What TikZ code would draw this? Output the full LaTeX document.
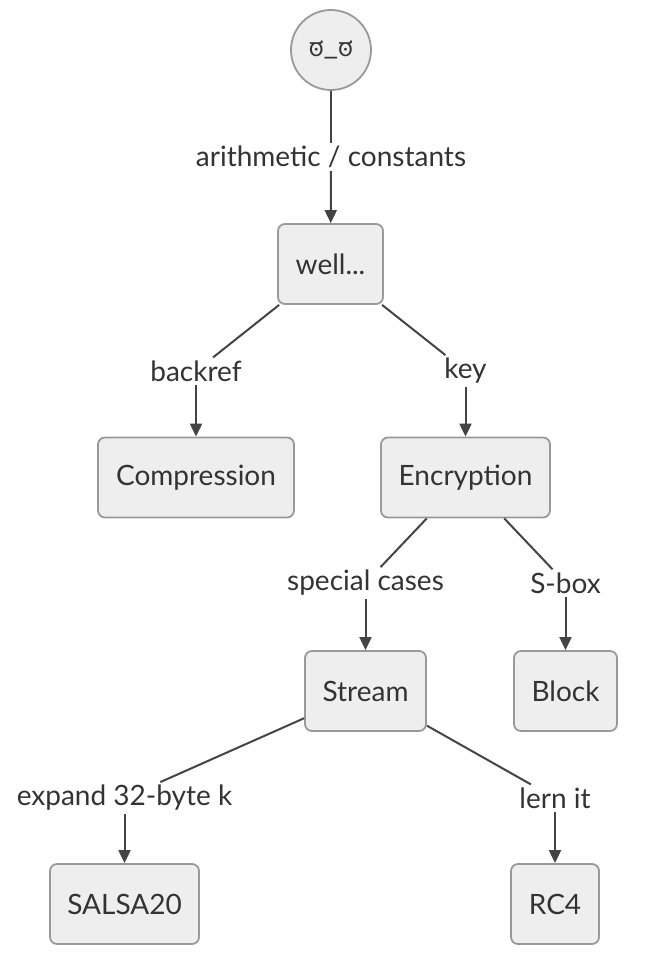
\documentclass[tikz,border=0pt]{standalone}
\usepackage{fontspec}
\setmainfont{Lato}
\newfontfamily\kannadafont[Script=Kannada]{Hind Mysuru}
\usetikzlibrary{arrows.meta}
\definecolor{nodefill}{HTML}{EEEEEE}
\definecolor{nodeline}{HTML}{999999}
\definecolor{txt}{HTML}{333333}
\definecolor{edge}{HTML}{444444}
\begin{document}
\begin{tikzpicture}[x=1pt,y=-1pt,
  box/.style={draw=nodeline, fill=nodefill, line width=1.8pt, rounded corners=7pt,
    text=txt, font=\fontsize{28}{33}\selectfont, minimum height=80pt, inner sep=0pt},
  lbl/.style={text=txt, font=\fontsize{28}{33}\selectfont, inner sep=3pt},
  conn/.style={draw=edge, line width=2pt},
  arr/.style={conn, -{Triangle[length=13pt,width=12pt]}}]
\useasboundingbox (0,0) rectangle (656,963);
\node[circle, draw=nodeline, fill=nodefill, line width=1.8pt, minimum size=80pt, inner sep=0pt, text=txt] (face) at (331,50) {\kannadafont\fontsize{25}{30}\selectfont ಠ\_ಠ};
\node[box, minimum width=105pt] (well) at (330.5,264) {well...};
\node[box, minimum width=196pt] (comp) at (196,477.5) {Compression};
\node[box, minimum width=169pt] (enc) at (465.5,477.5) {Encryption};
\node[box, minimum width=121pt] (stream) at (365.5,691) {Stream};
\node[box, minimum width=103pt] (block) at (565.5,691) {Block};
\node[box, minimum width=149pt] (salsa) at (124.5,904) {SALSA20};
\node[box, minimum width=88pt] (rc4) at (555,904) {RC4};
\node[lbl] (l0) at (331,157) {arithmetic / constants};
\node[lbl] (l1) at (196,371) {backref};
\node[lbl] (l2) at (465.5,371) {key};
\node[lbl] (l3) at (365.5,583) {special cases};
\node[lbl] (l4) at (565.5,583) {S-box};
\node[lbl] (l5) at (124.5,798) {expand 32-byte k};
\node[lbl] (l6) at (555,798) {lern it};
\draw[conn] (face) -- (l0); \draw[arr] (l0) -- (well);
\draw[conn] (well) -- (l1); \draw[arr] (l1) -- (comp);
\draw[conn] (well) -- (l2); \draw[arr] (l2) -- (enc);
\draw[conn] (enc) -- (l3); \draw[arr] (l3) -- (stream);
\draw[conn] (enc) -- (l4); \draw[arr] (l4) -- (block);
\draw[conn] (stream) -- (l5); \draw[arr] (l5) -- (salsa);
\draw[conn] (stream) -- (l6); \draw[arr] (l6) -- (rc4);
\end{tikzpicture}
\end{document}
